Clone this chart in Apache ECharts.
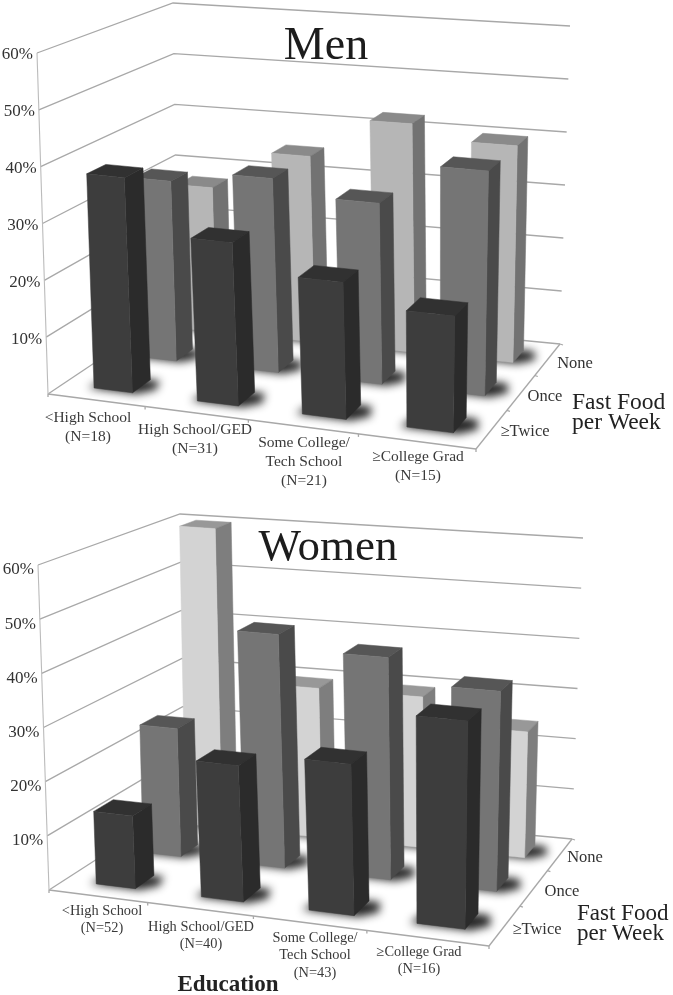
<!DOCTYPE html>
<html><head><meta charset="utf-8">
<style>html,body{margin:0;padding:0;background:#fff}#c{width:673px;height:995px;filter:blur(0.45px)}</style>
<script src="https://cdn.jsdelivr.net/npm/echarts@6/dist/echarts.min.js"></script>
</head><body><div id="c"></div>
<script>
// ---- data ----
const depthLevels = ['None', 'Once', '≥Twice'];
const tickValues = [10, 20, 30, 40, 50, 60];
const menCategories = ['<High School\n(N=18)', 'High School/GED\n(N=31)', 'Some College/\nTech School\n(N=21)', '≥College Grad\n(N=15)'];
const womenCategories = ['<High School\n(N=52)', 'High School/GED\n(N=40)', 'Some College/\nTech School\n(N=43)', '≥College Grad\n(N=16)'];
const menNone = [27.5, 35, 42.6, 40];
const menOnce = [33, 35.2, 32.5, 40];
const menTwice = [38, 28.5, 23.7, 20];
const womenNone = [60, 29.6, 29.6, 24.5];
const womenOnce = [24.7, 44.6, 42, 37.5];
const womenTwice = [13.5, 25, 27.5, 37.5];

// ---- layout / style ----
const BW = 0.05, BD = 0.066, USHIFT = 0.019;
const CAT_NUDGE = [-0.011, 0.002, 0.003, -0.012];
const panels = [
  { title: 'Men', cats: menCategories, series: [menNone, menOnce, menTwice],
    grid: { left: 48, top: 53, width: 428, height: 341 },
    floor: [[48, 394], [476, 449], [560, 344], [178, 307]],
    ceil: [[37, 53], [484, 94], [570, 26], [173, 3]],
    light: ['#b6b6b6', '#8a8a8a', '#727272'],
    titlePos: [326, 47, 46],
    tickX: 4, tickY: 2,
    catPos: [[88, 418], [195, 430], [304, 443], [418, 457]], catLH: 19, catFont: 15.5,
    depthPos: [[575, 364], [545, 397], [525, 432]],
    axisTitle: [572, 403, 423], axisFont: 23.5 },
  { title: 'Women', cats: womenCategories, series: [womenNone, womenOnce, womenTwice],
    grid: { left: 49, top: 565, width: 440, height: 325 },
    floor: [[49, 890], [489, 946], [572, 839], [184, 803]],
    ceil: [[38, 565], [497, 608], [583, 538], [180, 514]],
    light: ['#d3d3d3', '#989898', '#7e7e7e'],
    titlePos: [328, 548, 45],
    tickX: 4, tickY: 5,
    catPos: [[102, 911], [201, 927], [315, 938], [419, 952]], catLH: 17.5, catFont: 14.4,
    depthPos: [[585, 858], [562, 892], [537, 930]],
    axisTitle: [577, 914, 934], axisFont: 23 }
];
const dark = ['#3d3d3d', '#313131', '#2b2b2b'];
const mid = ['#757575', '#565656', '#4a4a4a'];
const SERIF = '"Liberation Serif","DejaVu Serif",serif';
const OFF = 3000;

function homography(q) {
  const [x0, y0] = q[0], [x1, y1] = q[1], [x2, y2] = q[2], [x3, y3] = q[3];
  const dx1 = x1 - x2, dx2 = x3 - x2, sx = x0 - x1 + x2 - x3;
  const dy1 = y1 - y2, dy2 = y3 - y2, sy = y0 - y1 + y2 - y3;
  const den = dx1 * dy2 - dx2 * dy1;
  const g = (sx * dy2 - dx2 * sy) / den, h = (dx1 * sy - sx * dy1) / den;
  const a = x1 - x0 + g * x1, b = x3 - x0 + h * x3, d = y1 - y0 + g * y1, e = y3 - y0 + h * y3;
  return (u, v) => { const k = g * u + h * v + 1; return [(a * u + b * v + x0) / k, (d * u + e * v + y0) / k]; };
}
panels.forEach(p => { p.F = homography(p.floor); p.C = homography(p.ceil); });
function project(p, u, v, w) { // u along education, v depth (0 front), w = height fraction
  const a = p.F(u, v), b = p.C(u, v);
  return [a[0] + (b[0] - a[0]) * w, a[1] + (b[1] - a[1]) * w];
}
function frac(cs, pt) { return [(pt[0] - cs.x) / cs.width, (cs.y + cs.height - pt[1]) / cs.height]; }

function barRender(p, row) {
  const cols = row === 2 ? dark : row === 1 ? mid : p.light;
  const vc = (2 - row + 0.5) / 3;
  return function (params, api) {
    const cs = params.coordSys;
    const [uc, w] = frac(cs, api.coord([api.value(0), api.value(1)]));
    const u = uc + USHIFT + CAT_NUDGE[api.value(0)];
    const bw = api.size([1, 0])[0] / cs.width * BW / 0.25;
    const u0 = u - bw, u1 = u + bw, v0 = vc - BD, v1 = vc + BD;
    const P = (a, b, c) => project(p, a, b, c);
    const shadow = [P(u0 - 0.014, v0 - 0.004, 0), P(u1 + 0.012, v0 - 0.006, 0), P(u1 + 0.042, v0 + 0.05, 0), P(u1 + 0.025, v1, 0), P(u0, v1, 0)]
      .map(q => [q[0] - OFF, q[1]]);
    return { type: 'group', silent: true, children: [
      { type: 'polygon', shape: { points: shadow }, style: { fill: '#000', shadowBlur: 9, shadowColor: 'rgba(25,25,25,0.95)', shadowOffsetX: OFF } },
      { type: 'polygon', shape: { points: [P(u0, v0, w), P(u1, v0, w), P(u1, v1, w), P(u0, v1, w)] }, style: { fill: cols[1], stroke: cols[1], lineWidth: 0.5 } },
      { type: 'polygon', shape: { points: [P(u1, v0, 0), P(u1, v1, 0), P(u1, v1, w), P(u1, v0, w)] }, style: { fill: cols[2], stroke: cols[2], lineWidth: 0.5 } },
      { type: 'polygon', shape: { points: [P(u0, v0, 0), P(u1, v0, 0), P(u1, v0, w), P(u0, v0, w)] }, style: { fill: cols[0], stroke: cols[0], lineWidth: 0.5 } }
    ] };
  };
}
function frameRender(p) {
  return function (params, api) {
    const cs = params.coordSys;
    const [, w] = frac(cs, api.coord([0, api.value(0)]));
    return { type: 'group', silent: true, children: [
      { type: 'polyline', shape: { points: [project(p, 0, 0, w), project(p, 0, 1, w), project(p, 1, 1, w)] }, style: { stroke: '#a8a8a8', lineWidth: 1.3, fill: null } }
    ] };
  };
}
function floorRender(p) {
  return function (params, api) {
    const ln = (a, b) => ({ type: 'polyline', shape: { points: [a, b] }, style: { stroke: '#a8a8a8', lineWidth: 1.3, fill: null } });
    const kids = [
      ln(project(p, 0, 0, 0), project(p, 1, 0, 0)), ln(project(p, 1, 0, 0), project(p, 1, 1, 0)),
      ln(project(p, 1, 1, 0), project(p, 0, 1, 0)), ln(project(p, 0, 1, 0), project(p, 0, 0, 0)),
      { type: 'polyline', shape: { points: [project(p, 0, 0, 0), project(p, 0, 0, 1)] }, style: { stroke: '#bbb', lineWidth: 1.1, fill: null } }
    ];
    for (let i = 0; i <= 4; i++) { const a = project(p, i / 4, 0, 0); kids.push(ln(a, [a[0], a[1] + 3])); }
    for (let i = 1; i <= 3; i++) { const a = project(p, 1, i / 3, 0); kids.push(ln(a, [a[0] + 3, a[1] + 1])); }
    return { type: 'group', silent: true, children: kids };
  };
}

const grids = [], xAxes = [], yAxes = [], series = [], graphics = [];
const txt = (t, x, y, size, align, extra) => ({ type: 'text', silent: true, style: Object.assign({ text: t, x, y, align, verticalAlign: 'middle', fill: '#2e2e2e', font: size + 'px ' + SERIF }, extra || {}) });
panels.forEach((p, idx) => {
  grids.push(Object.assign({ containLabel: false, show: false }, p.grid));
  xAxes.push({ type: 'category', gridIndex: idx, data: p.cats, show: false });
  yAxes.push({ type: 'value', gridIndex: idx, min: 0, max: 60, interval: 10, show: false });
  series.push({ type: 'custom', xAxisIndex: idx, yAxisIndex: idx, clip: false, silent: true, z: 1, data: tickValues, encode: { y: 0 }, renderItem: frameRender(p) });
  series.push({ type: 'custom', xAxisIndex: idx, yAxisIndex: idx, clip: false, silent: true, z: 1, data: [0], encode: { y: 0 }, renderItem: floorRender(p) });
  p.series.forEach((vals, row) => {
    series.push({ type: 'custom', name: p.title + ' ' + depthLevels[row], xAxisIndex: idx, yAxisIndex: idx, clip: false, silent: true, z: 2 + row,
      data: vals.map((v, i) => [i, v]), encode: { x: 0, y: 1 }, renderItem: barRender(p, row) });
  });
  graphics.push(txt(p.title, p.titlePos[0], p.titlePos[1], p.titlePos[2], 'center', { fill: '#1c1c1c' }));
  tickValues.forEach(t => {
    const a = project(p, 0, 0, t / 60);
    graphics.push(txt(t + '%', a[0] - p.tickX, a[1] + p.tickY, 17, 'right', { fill: '#333' }));
  });
  p.cats.forEach((c, i) => {
    c.split('\n').forEach((line, k) => graphics.push(txt(line, p.catPos[i][0], p.catPos[i][1] + k * p.catLH, p.catFont, 'center', { fill: '#3a3a3a' })));
  });
  depthLevels.forEach((d, i) => graphics.push(txt(d, p.depthPos[i][0], p.depthPos[i][1], 16.5, 'center', { fill: '#333' })));
  graphics.push(txt('Fast Food', p.axisTitle[0], p.axisTitle[1], p.axisFont, 'left', { fill: '#222' }));
  graphics.push(txt('per Week', p.axisTitle[0], p.axisTitle[2], p.axisFont, 'left', { fill: '#222' }));
});
graphics.push(txt('Education', 228, 985, 23, 'center', { fill: '#222', font: 'bold 23px ' + SERIF }));

const chart = echarts.init(document.getElementById('c'), null, { renderer: 'canvas' });
chart.setOption({ animation: false, backgroundColor: '#fff', grid: grids, xAxis: xAxes, yAxis: yAxes, series, graphic: { elements: graphics } });
</script></body></html>
